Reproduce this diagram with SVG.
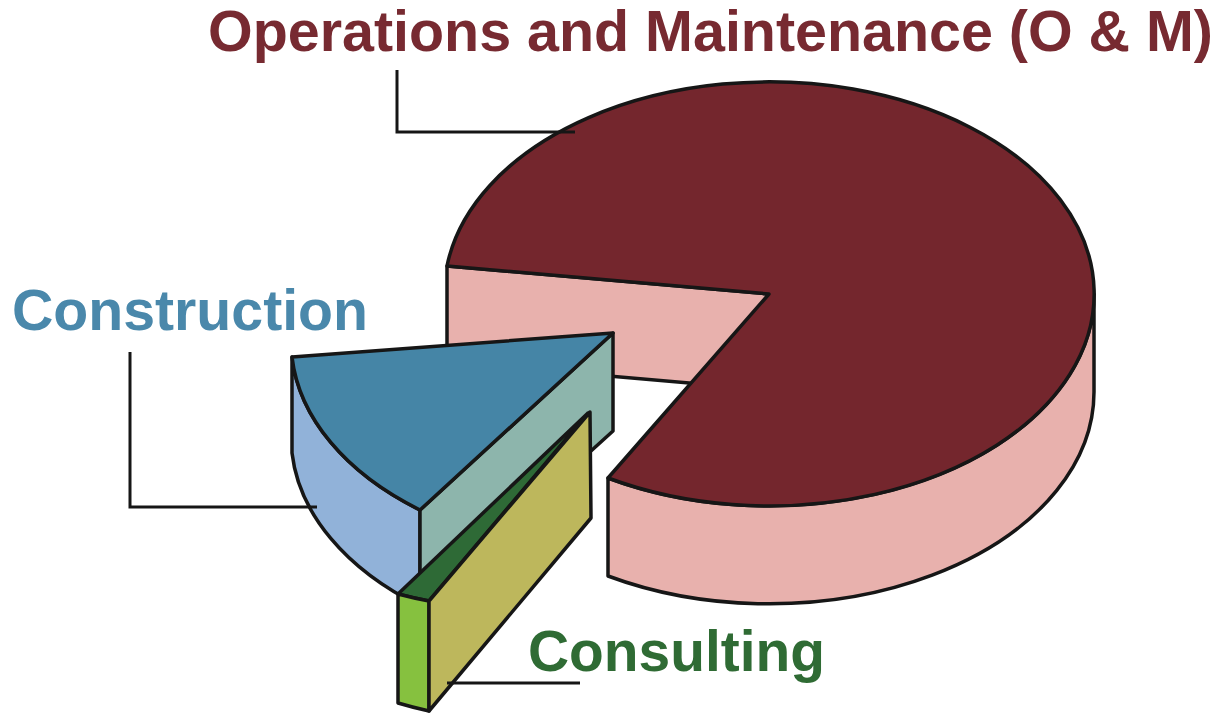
<svg xmlns="http://www.w3.org/2000/svg" width="1226" height="713" viewBox="0 0 1226 713">
<style>
.e{stroke:#161616;stroke-width:3.5;stroke-linejoin:round}
.ld{fill:none;stroke:#161616;stroke-width:3}
.t{font-family:"Liberation Sans",Arial,sans-serif;font-weight:bold}
</style>
<rect width="1226" height="713" fill="#ffffff"/>
<g id="om">
  <path class="e" fill="#e8b1ad" d="M447,266 L769,294 L769,390 L447,362 Z"/>
  <path class="e" fill="#e8b1ad" d="M608,478 A325,212 0 0 0 1094,294 L1094,392 A325,212 0 0 1 608,576 Z"/>
  <path class="e" fill="#74262d" d="M769,294 L447,266 A325,212 0 1 1 608,478 Z"/>
</g>
<g id="construction">
  <path class="e" fill="#91b2d9" d="M292,357 A325,212 0 0 0 420,510 L420,606 A325,212 0 0 1 292,453 Z"/>
  <path class="e" fill="#8db5ac" d="M613,333 L420,510 L420,606 L613,431 Z"/>
  <path class="e" fill="#4585a6" d="M613,333 L292,357 A325,212 0 0 0 420,510 Z"/>
</g>
<g id="consulting">
  <path class="e" fill="#2e6a36" d="M588,413 L398,594 A325,212 0 0 0 429,601 Z"/>
  <path class="e" fill="#86c13f" d="M398,594 A325,212 0 0 0 429,601 L429,711 A325,212 0 0 1 398,703 Z"/>
  <path class="e" fill="#bdb75c" d="M590,412 L429,601 L429,711 L591,518 Z"/>
</g>
<g id="connectors">
  <path class="ld" d="M397,70 L397,132 L575,132"/>
  <path class="ld" d="M130,352 L130,507 L317,507"/>
  <path class="ld" d="M447,683 L580,683"/>
</g>
<g id="labels">
  <text class="t" x="208" y="51" font-size="58" fill="#772a31" textLength="1005" lengthAdjust="spacingAndGlyphs">Operations and Maintenance (O &amp; M)</text>
  <text class="t" x="12" y="330" font-size="57" fill="#4a88ab" textLength="356" lengthAdjust="spacingAndGlyphs">Construction</text>
  <text class="t" x="528" y="671" font-size="57" fill="#2f6b34" textLength="297" lengthAdjust="spacingAndGlyphs">Consulting</text>
</g>
</svg>
